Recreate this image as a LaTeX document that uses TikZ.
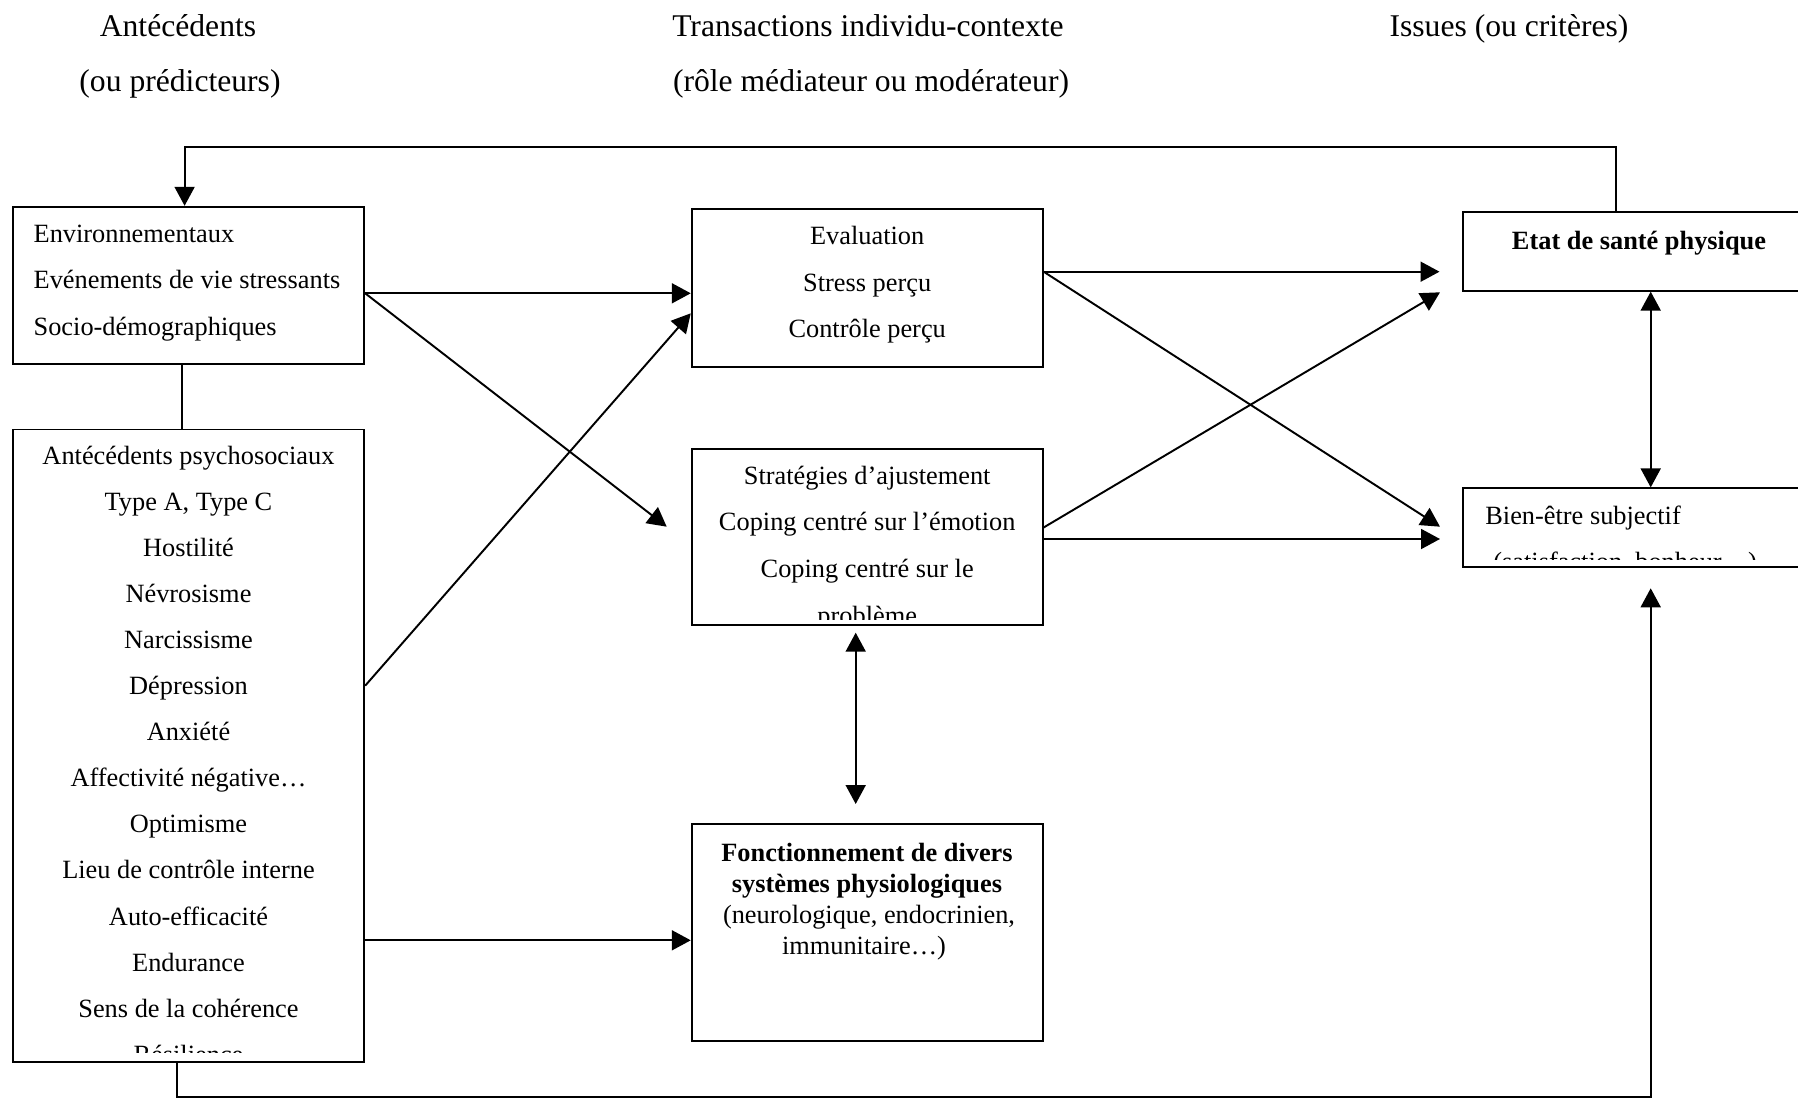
\documentclass[tikz,border=0pt]{standalone}
\usepackage{fontspec}
\setmainfont{Liberation Serif}
\usetikzlibrary{positioning,arrows.meta}

\tikzset{
  box/.style={draw, line width=1.1pt, inner sep=0pt},
  txt/.style={font=\fontsize{15}{26}\selectfont, inner sep=0pt},
  head/.style={font=\fontsize{18}{22}\selectfont, inner sep=0pt},
  link/.style={line width=1.1pt},
  arrow/.style={link, -{Triangle[length=0.38cm,width=0.4cm]}},
  twoway/.style={link, {Triangle[length=0.38cm,width=0.4cm]}-{Triangle[length=0.38cm,width=0.4cm]}}
}

\begin{document}
\begin{tikzpicture}[x=0.02cm,y=-0.02cm]
  \useasboundingbox (0,0) rectangle (1798,1098);

  % Titres des colonnes
  \node[head, anchor=base] (h1) at (178,36.5) {Antécédents};
  \node[head, anchor=base] (h1b) at (180,91.5) {(ou prédicteurs)};
  \node[head, anchor=base] (h2) at (868,36.5) {Transactions individu-contexte};
  \node[head, anchor=base] (h2b) at (871,91.5) {(rôle médiateur ou modérateur)};
  \node[head, anchor=base] (h3) at (1509,36.5) {Issues (ou critères)};

  % Antecedents
  \node[box, minimum width=7.03cm, minimum height=3.15cm] (env) at (188.5,285.5) {};
  \foreach \t [count=\i from 0] in {Environnementaux, Evénements de vie stressants, Socio-démographiques}
    \node[txt, anchor=base west] (env\i) at (33.3,242.5+\i*46.4) {\t};

  \node[box, minimum width=7.03cm, minimum height=12.65cm] (psych) at (188.5,745.7) {};
  \begin{scope}
    \clip (14,431) rectangle (363,1052);
    \foreach \t [count=\i from 0] in {Antécédents psychosociaux, {Type A, Type C}, Hostilité, Névrosisme,
        Narcissisme, Dépression, Anxiété, Affectivité négative…, Optimisme, Lieu de contrôle interne,
        Auto-efficacité, Endurance, Sens de la cohérence, Résilience}
      \node[txt, anchor=base] (psy\i) at (188.5,464+\i*46.1) {\t};
  \end{scope}

  % Transactions
  \node[box, minimum width=7.02cm, minimum height=3.15cm] (eval) at (867.2,287.8) {};
  \foreach \t [count=\i from 0] in {Evaluation, Stress perçu, Contrôle perçu}
    \node[txt, anchor=base] (eval\i) at (867.2,245+\i*46.4) {\t};

  \node[box, minimum width=7.02cm, minimum height=3.52cm] (coping) at (867.2,537.4) {};
  \begin{scope}
    \clip (693,451) rectangle (1041,619);
    \foreach \t [count=\i from 0] in {Stratégies d’ajustement, Coping centré sur l’émotion, Coping centré sur le, problème}
      \node[txt, anchor=base] (cop\i) at (867.2,484+\i*46.7) {\t};
  \end{scope}

  \node[box, minimum width=7.02cm, minimum height=4.34cm] (fonct) at (867.2,932.1) {};
  \node[txt, anchor=base] (fon0) at (867,861) {\bfseries Fonctionnement de divers};
  \node[txt, anchor=base] (fon1) at (867,892) {\bfseries systèmes physiologiques};
  \node[txt, anchor=base] (fon2) at (869,923) {(neurologique, endocrinien,};
  \node[txt, anchor=base] (fon3) at (864,954) {immunitaire…)};

  % Issues
  \node[box, minimum width=7.01cm, minimum height=1.58cm] (etat) at (1638.6,251.2) {};
  \node[txt, anchor=base] (etat0) at (1639,249.5) {\bfseries Etat de santé physique};

  \node[box, minimum width=7.01cm, minimum height=1.57cm] (bien) at (1638.6,527.6) {};
  \begin{scope}
    \clip (1465,490) rectangle (1798,559);
    \node[txt, anchor=base west] (bien0) at (1485,524.5) {Bien-être subjectif};
    \node[txt, anchor=base west] (bien1) at (1493,570.5) {(satisfaction, bonheur…)};
  \end{scope}

  % Fleches
  \coordinate (copin) at (666.7,526.7);
  \coordinate (etin1) at (1439.5,271.7);
  \coordinate (etin2) at (1440,292.3);
  \coordinate (bin1) at (1440,526.7);
  \coordinate (bin2) at (1440,539);
  \coordinate (bin3) at (1650.7,588.3);
  \coordinate (cf1) at (855.7,632.7);
  \coordinate (cf2) at (855.7,804);

  \draw[link] (env.south -| 181.7,0) -- (psych.north -| 181.7,0);
  \draw[arrow] (env.east |- 0,293.3) -- (eval.west |- 0,293.3);
  \draw[arrow] (env.east |- 0,293.3) -- (copin);
  \draw[arrow] (psych.east |- 0,685.7) -- (eval.west |- 0,313.3);
  \draw[arrow] (psych.east |- 0,940.3) -- (fonct.west |- 0,940.3);

  \draw[arrow] (eval.east |- 0,271.7) -- (etin1);
  \draw[arrow] (eval.east |- 0,271.7) -- (bin1);
  \draw[arrow] (coping.east |- 0,527.5) -- (etin2);
  \draw[arrow] (coping.east |- 0,539) -- (bin2);

  \draw[twoway] (etat.south -| 1650.7,0) -- (bien.north -| 1650.7,0);
  \draw[twoway] (cf1) -- (cf2);

  % Retours
  \draw[arrow] (etat.north -| 1615.7,0) |- (184.6,146.8) -- (env.north -| 184.6,0);
  \draw[arrow] (psych.south -| 176.7,0) |- (1650.7,1096.7) -- (bin3);

\end{tikzpicture}
\end{document}
